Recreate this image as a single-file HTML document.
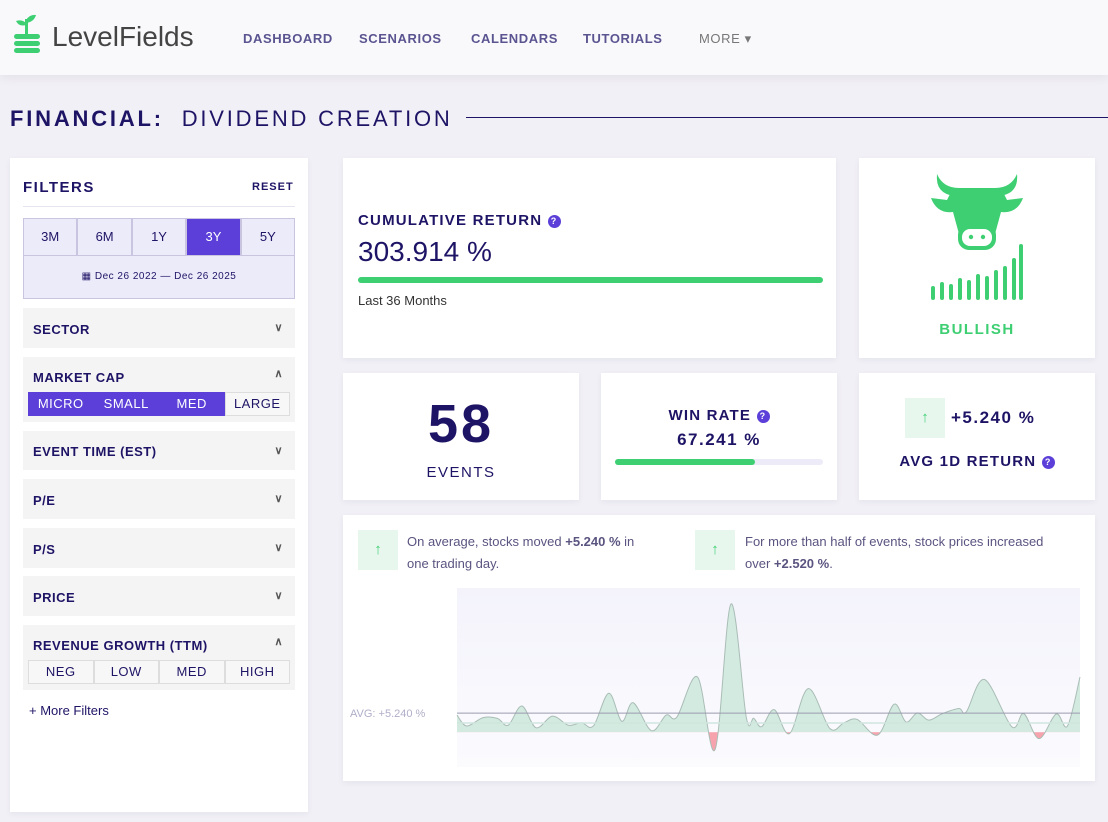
<!DOCTYPE html>
<html><head><meta charset="utf-8">
<style>
*{box-sizing:border-box;margin:0;padding:0}
body{width:1108px;height:822px;overflow:hidden;background:#f1f0f6;font-family:"Liberation Sans",sans-serif;color:#1e1466;position:relative}
.abs{position:absolute}
.card{position:absolute;background:#fff;box-shadow:0 2px 6px rgba(40,30,90,.06)}
.nav{position:absolute;top:31px;font-size:13px;font-weight:bold;letter-spacing:.6px;color:#5a5490}
.acc{position:absolute;left:23px;width:272px;background:#f4f4f4;font-size:13px;font-weight:bold;letter-spacing:.5px;color:#1e1466}
.acc span{position:absolute;left:10px}
.acc i{position:absolute;right:12px;font-style:normal;font-size:11px;color:#555}
.seg{position:absolute;display:flex}
.seg div{flex:1;text-align:center;border:1px solid #c9c4e0;font-size:13px}
.up{position:absolute;background:#e7f7ee;color:#3ecf73;text-align:center;font-size:15px}
.q{display:inline-block;width:13px;height:13px;border-radius:50%;background:#5b3fd8;color:#fff;font-size:9px;line-height:13px;text-align:center;vertical-align:middle}
</style></head><body>
<div class="abs" style="left:0;top:0;width:1108px;height:75px;background:#f9f9fc;box-shadow:0 3px 10px rgba(0,0,0,.06)">
  <svg class="abs" style="left:12px;top:14px" width="30" height="40" viewBox="0 0 30 40">
    <path d="M14 6 q4-6 10-5 q-2 7-10 8z M14 9 q-4-4-10-2 q3 6 10 4z" fill="#3ecf73"/><rect x="13" y="5" width="3" height="15" fill="#3ecf73"/>
    <rect x="2" y="20" width="26" height="5" rx="2.5" fill="#3ecf73"/><rect x="2" y="27" width="26" height="5" rx="2.5" fill="#3ecf73"/><rect x="2" y="34" width="26" height="5" rx="2.5" fill="#3ecf73"/>
  </svg>
  <div class="abs" style="left:52px;top:21px;font-size:28px;color:#444">LevelFields</div>
  <div class="nav" style="left:243px">DASHBOARD</div>
  <div class="nav" style="left:359px">SCENARIOS</div>
  <div class="nav" style="left:471px">CALENDARS</div>
  <div class="nav" style="left:583px">TUTORIALS</div>
  <div class="nav" style="left:699px;font-weight:normal;color:#777">MORE ▾</div>
</div>
<div class="abs" style="left:10px;top:106px;font-size:22px;letter-spacing:2.8px;color:#1e1466"><b>FINANCIAL:</b>&nbsp; DIVIDEND CREATION</div>
<div class="abs" style="left:466px;top:117px;width:642px;height:1px;background:#1e1466"></div>

<div class="card" style="left:10px;top:158px;width:298px;height:654px">
  <div class="abs" style="left:13px;top:21px;font-size:15px;font-weight:bold;letter-spacing:1.5px">FILTERS</div>
  <div class="abs" style="left:242px;top:23px;font-size:11px;font-weight:bold;letter-spacing:1px">RESET</div>
  <div class="abs" style="left:13px;top:48px;width:272px;height:1px;background:#e6e4ef"></div>
  <div class="seg" style="left:13px;top:60px;width:272px;height:38px;background:#ecebfa">
    <div style="line-height:36px">3M</div><div style="line-height:36px">6M</div><div style="line-height:36px">1Y</div><div style="line-height:36px;background:#5b3fd8;color:#fff">3Y</div><div style="line-height:36px">5Y</div>
  </div>
  <div class="abs" style="left:13px;top:97px;width:272px;height:44px;background:#ecebfa;border:1px solid #c9c4e0;text-align:center;line-height:42px;font-size:10px;letter-spacing:.5px">▦ Dec 26 2022 — Dec 26 2025</div>
</div>
<div class="acc" style="top:308px;height:40px"><span style="top:14px">SECTOR</span><i style="top:13px">∨</i></div>
<div class="acc" style="top:357px;height:65px"><span style="top:13px">MARKET CAP</span><i style="top:10px">∧</i>
  <div class="seg" style="left:5px;top:35px;width:262px;height:24px;font-weight:normal">
    <div style="line-height:22px;background:#5b3fd8;color:#fff;border-color:#5b3fd8">MICRO</div><div style="line-height:22px;background:#5b3fd8;color:#fff;border-color:#5b3fd8">SMALL</div><div style="line-height:22px;background:#5b3fd8;color:#fff;border-color:#5b3fd8">MED</div><div style="line-height:22px;background:#f7f7f7;color:#1e1466;border-color:#ddd">LARGE</div>
  </div></div>
<div class="acc" style="top:431px;height:39px"><span style="top:13px">EVENT TIME (EST)</span><i style="top:13px">∨</i></div>
<div class="acc" style="top:479px;height:40px"><span style="top:14px">P/E</span><i style="top:13px">∨</i></div>
<div class="acc" style="top:528px;height:40px"><span style="top:14px">P/S</span><i style="top:13px">∨</i></div>
<div class="acc" style="top:576px;height:40px"><span style="top:14px">PRICE</span><i style="top:13px">∨</i></div>
<div class="acc" style="top:625px;height:65px"><span style="top:13px">REVENUE GROWTH (TTM)</span><i style="top:10px">∧</i>
  <div class="seg" style="left:5px;top:35px;width:262px;height:24px;font-weight:normal">
    <div style="line-height:22px;background:#f7f7f7;border-color:#ddd">NEG</div><div style="line-height:22px;background:#f7f7f7;border-color:#ddd">LOW</div><div style="line-height:22px;background:#f7f7f7;border-color:#ddd">MED</div><div style="line-height:22px;background:#f7f7f7;border-color:#ddd">HIGH</div>
  </div></div>
<div class="abs" style="left:29px;top:703px;font-size:13px">+ More Filters</div>

<div class="card" style="left:343px;top:158px;width:493px;height:200px">
  <div class="abs" style="left:15px;top:54px;font-size:15px;font-weight:bold;letter-spacing:1.2px">CUMULATIVE RETURN <span class="q">?</span></div>
  <div class="abs" style="left:15px;top:78px;font-size:28px">303.914 %</div>
  <div class="abs" style="left:15px;top:119px;width:465px;height:6px;border-radius:3px;background:#3ecf73"></div>
  <div class="abs" style="left:15px;top:135px;font-size:13px;color:#333">Last 36 Months</div>
</div>
<div class="card" style="left:859px;top:158px;width:236px;height:200px">
  <svg class="abs" style="left:72px;top:16px" width="92" height="130" viewBox="0 0 92 130">
    <g fill="#3ecf73">
      <path d="M24 22 Q4 20 6 0 Q12 14 28 14 Z"/><path d="M68 22 Q88 20 86 0 Q80 14 64 14 Z"/>
      <path d="M22 14 L70 14 L76 26 L92 24 Q86 40 70 38 L64 60 L28 60 L22 38 Q6 40 0 24 L16 26 Z"/>
      <rect x="27" y="50" width="38" height="26" rx="11"/>
    </g>
    <rect x="31" y="55" width="30" height="17" rx="8" fill="#fff"/>
    <circle cx="40" cy="63" r="2.2" fill="#3ecf73"/><circle cx="52" cy="63" r="2.2" fill="#3ecf73"/>
    <g fill="#3ecf73"><rect x="0" y="112" width="4" height="14" rx="2"/><rect x="9" y="108" width="4" height="18" rx="2"/><rect x="18" y="110" width="4" height="16" rx="2"/><rect x="27" y="104" width="4" height="22" rx="2"/><rect x="36" y="106" width="4" height="20" rx="2"/><rect x="45" y="100" width="4" height="26" rx="2"/><rect x="54" y="102" width="4" height="24" rx="2"/><rect x="63" y="96" width="4" height="30" rx="2"/><rect x="72" y="92" width="4" height="34" rx="2"/><rect x="81" y="84" width="4" height="42" rx="2"/><rect x="88" y="70" width="4" height="56" rx="2"/></g>
  </svg>
  <div class="abs" style="left:0;width:236px;top:163px;text-align:center;font-size:15px;font-weight:bold;letter-spacing:1.5px;color:#3ecf73">BULLISH</div>
</div>
<div class="card" style="left:343px;top:373px;width:236px;height:127px">
  <div class="abs" style="left:0;width:236px;top:20px;text-align:center;font-size:54px;font-weight:bold;letter-spacing:3px">58</div>
  <div class="abs" style="left:0;width:236px;top:91px;text-align:center;font-size:15px;letter-spacing:1.5px">EVENTS</div>
</div>
<div class="card" style="left:601px;top:373px;width:236px;height:127px">
  <div class="abs" style="left:0;width:236px;top:34px;text-align:center;font-size:15px;font-weight:bold;letter-spacing:1.2px">WIN RATE <span class="q">?</span></div>
  <div class="abs" style="left:0;width:236px;top:57px;text-align:center;font-size:17px;font-weight:bold;letter-spacing:1.5px">67.241 %</div>
  <div class="abs" style="left:14px;top:86px;width:208px;height:6px;border-radius:3px;background:#ecebf7"><div style="width:67.2%;height:6px;border-radius:3px;background:#3ecf73"></div></div>
</div>
<div class="card" style="left:859px;top:373px;width:236px;height:127px">
  <div class="up" style="left:46px;top:25px;width:40px;height:40px;line-height:40px">↑</div>
  <div class="abs" style="left:92px;top:35px;font-size:17px;font-weight:bold;letter-spacing:1.5px">+5.240 %</div>
  <div class="abs" style="left:0;width:236px;top:80px;text-align:center;font-size:15px;font-weight:bold;letter-spacing:1.2px">AVG 1D RETURN <span class="q">?</span></div>
</div>
<div class="card" style="left:343px;top:515px;width:752px;height:266px">
  <div class="up" style="left:15px;top:15px;width:40px;height:40px;line-height:40px">↑</div>
  <div class="abs" style="left:64px;top:16px;width:300px;font-size:13px;line-height:22px;color:#5a5480">On average, stocks moved <b>+5.240 %</b> in<br>one trading day.</div>
  <div class="up" style="left:352px;top:15px;width:40px;height:40px;line-height:40px">↑</div>
  <div class="abs" style="left:402px;top:16px;width:345px;font-size:13px;line-height:22px;color:#5a5480">For more than half of events, stock prices increased<br>over <b>+2.520 %</b>.</div>
</div>
<svg class="abs" id="chart" style="left:0;top:0" width="1108" height="822"></svg>
<script>
const eventDays=[0,17,46,71,90,114,139,168,196,219,240,267,290,310,342,368,387,423,454,482,509,522,536,558,585,618,656,681,704,740,769,790,810,830,854,883,896,928,976,997,1024,1054,1074,1096];
const returns=[4.7,1.7,4.0,3.8,1.9,7.2,1.2,4.4,1.9,2.6,1.7,10.7,3.0,8.1,0.4,4.7,4.2,15.2,-4.8,35.3,4.0,3.8,1.5,6.2,-0.4,12.0,1.0,2.6,3.5,-0.8,7.7,2.8,5.3,3.3,5.1,6.5,5.6,14.5,1.5,5.1,-1.8,5.0,1.7,15.2];
const avgReturn=5.24;
const medianReturn=2.52;
const avgLabel=["AVG: +5.240 %"];
const NS="http://www.w3.org/2000/svg";
const svg=document.getElementById('chart');
const X0=457,X1=1080,Y0=588,Y1=767;
const dMin=0,dMax=1096,vMin=-9.6,vMax=39.7;
const xs=d=>X0+(d-dMin)/(dMax-dMin)*(X1-X0);
const ys=v=>Y1-(v-vMin)/(vMax-vMin)*(Y1-Y0);
function mk(t,a){const e=document.createElementNS(NS,t);for(const k in a)e.setAttribute(k,a[k]);svg.appendChild(e);return e;}
const defs=mk('defs',{});
defs.innerHTML='<linearGradient id="bg" x1="0" x2="0" y1="0" y2="1"><stop offset="0" stop-color="#f4f3fc"/><stop offset="1" stop-color="#fbfbfe"/></linearGradient><clipPath id="above"><rect x="'+X0+'" y="'+Y0+'" width="'+(X1-X0)+'" height="'+(ys(0)-Y0)+'"/></clipPath><clipPath id="below"><rect x="'+X0+'" y="'+ys(0)+'" width="'+(X1-X0)+'" height="'+(Y1-ys(0))+'"/></clipPath>';
const bg=mk('rect',{x:X0,y:Y0,width:X1-X0,height:Y1-Y0,fill:'url(#bg)'});


const pts=eventDays.map((d,i)=>[xs(d),ys(returns[i])]);
let line='M'+pts[0][0]+','+pts[0][1];
for(let i=0;i<pts.length-1;i++){const p0=pts[Math.max(0,i-1)],p1=pts[i],p2=pts[i+1],p3=pts[Math.min(pts.length-1,i+2)];
line+=' C'+(p1[0]+(p2[0]-p0[0])/6)+','+(p1[1]+(p2[1]-p0[1])/6)+' '+(p2[0]-(p3[0]-p1[0])/6)+','+(p2[1]-(p3[1]-p1[1])/6)+' '+p2[0]+','+p2[1];}
const z=ys(0);
const area=line+' L'+pts[pts.length-1][0]+','+z+' L'+pts[0][0]+','+z+'Z';
const a1=mk('path',{d:area,fill:'#d3eae1','clip-path':'url(#above)'});


const a2=mk('path',{d:area,fill:'#f7a3ae','clip-path':'url(#below)'});


const l=mk('path',{d:line,fill:'none',stroke:'#a9bdb5','stroke-width':1});


const ml=mk('line',{x1:X0,x2:X1,y1:ys(medianReturn),y2:ys(medianReturn),stroke:'#cfe6de','stroke-width':1.5});


const al=mk('line',{x1:X0,x2:X1,y1:ys(avgReturn),y2:ys(avgReturn),stroke:'#9a9aae','stroke-width':1});


const at=mk('text',{x:350,y:ys(avgReturn)+1,'font-size':11,fill:'#b0aec8','font-family':'Liberation Sans, sans-serif','dominant-baseline':'middle'});
at.textContent=avgLabel[0];


</script>
</body></html>
